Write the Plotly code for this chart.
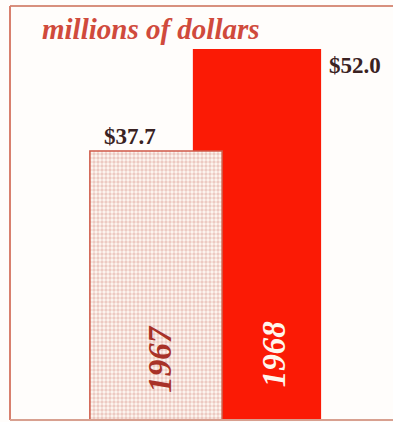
import plotly.graph_objects as go

years = ["1967", "1968"]
values = [37.7, 52.0]
value_labels = ["$37.7", "$52.0"]
title_text = "millions of dollars"

fig = go.Figure()

# 1968 solid red bar (behind)
fig.add_trace(go.Bar(
    x=[years[1]], y=[values[1]], width=1.27,
    marker=dict(color="#fb1a05", line=dict(width=0)),
    hoverinfo="skip", showlegend=False,
))
# 1967 dotted bar (in front)
fig.add_trace(go.Bar(
    x=[years[0]], y=[values[0]], width=1.31,
    marker=dict(
        color="#fdf8f2",
        line=dict(color="#cf5a48", width=1.5),
        pattern=dict(shape=".", fgcolor="#dc9c92", bgcolor="#fdf8f2", size=4, solidity=0.55),
    ),
    hoverinfo="skip", showlegend=False,
))

label_font = dict(family="Liberation Serif", size=23, color="#3a2222")
annotations = [
    dict(x=0, y=values[0], text="<b>" + value_labels[0] + "</b>", showarrow=False, xshift=-26, yshift=0,
         yanchor="bottom", font=label_font, xref="x", yref="y"),
    dict(x=1, y=values[1], text="<b>" + value_labels[1] + "</b>", showarrow=False, xanchor="left",
         xshift=70, yshift=-31, yanchor="bottom", font=label_font, xref="x", yref="y"),
    dict(x=0, y=8.6, text="<b><i>" + years[0] + "</i></b>", showarrow=False, textangle=-90, xshift=4,
         font=dict(family="Liberation Serif", size=33, color="#a83228"), xref="x", yref="y"),
    dict(x=1, y=9.2, text="<b><i>" + years[1] + "</i></b>", showarrow=False, textangle=-90, xshift=17,
         font=dict(family="Liberation Serif", size=33, color="#fff6ee"), xref="x", yref="y"),
    dict(x=40 / 393, y=1 - 40 / 422, xref="paper", yref="paper", xanchor="left", yanchor="bottom",
         yshift=-7, text="<b><i>" + title_text + "</i></b>", showarrow=False,
         font=dict(family="Liberation Serif", size=29, color="#d04a3c")),
]

shapes = [
    dict(type="line", xref="paper", yref="paper", x0=10 / 393, x1=1, y0=1 - 6 / 422, y1=1 - 6 / 422,
         line=dict(color="#d8907e", width=2)),
    dict(type="line", xref="paper", yref="paper", x0=10 / 393, x1=10 / 393, y0=1 - 6 / 422, y1=2 / 422,
         line=dict(color="#d8806e", width=2)),
    dict(type="line", xref="paper", yref="paper", x0=10 / 393, x1=1, y0=2 / 422, y1=2 / 422,
         line=dict(color="#d8a090", width=2)),
]

fig.update_layout(
    width=393, height=422,
    margin=dict(l=0, r=0, t=0, b=0),
    paper_bgcolor="#fffdfb", plot_bgcolor="#fffdfb",
    barmode="overlay",
    xaxis=dict(type="category", categoryorder="array", categoryarray=years,
               range=[-1.545, 2.347], visible=False, fixedrange=True),
    yaxis=dict(range=[-0.28, 58.87], visible=False, fixedrange=True),
    annotations=annotations, shapes=shapes,
)

fig.write_html("out.html")
